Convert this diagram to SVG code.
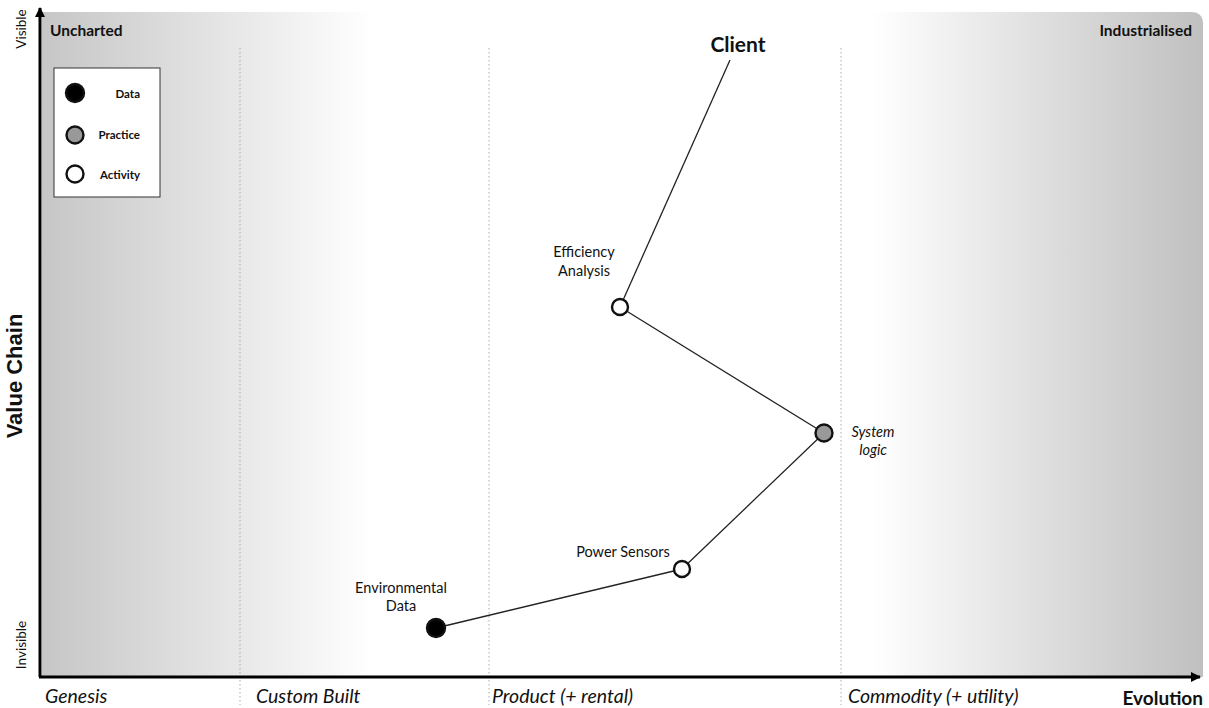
<svg xmlns="http://www.w3.org/2000/svg" width="1209" height="708" viewBox="0 0 1209 708">
<style>
text{font-family:"Lato","Liberation Sans",sans-serif;fill:#111}
.b{font-weight:bold}
.i{font-style:italic}
.lab{font-size:14.5px}
.stage{font-size:19.5px;font-style:italic}
.div{stroke:#aaa;stroke-width:1;stroke-dasharray:1.5 2.5}
.edge{stroke:#222;stroke-width:1.3;fill:none}
.node{stroke:#111;stroke-width:2.4}
</style>
<defs>
<linearGradient id="bg" x1="42" y1="0" x2="1203" y2="0" gradientUnits="userSpaceOnUse">
<stop offset="0" stop-color="#c6c6c6"/>
<stop offset="0.285" stop-color="#ffffff"/>
<stop offset="0.715" stop-color="#ffffff"/>
<stop offset="1" stop-color="#c0c0c0"/>
</linearGradient>
<marker id="ah" markerWidth="10" markerHeight="10" refX="9" refY="5" orient="auto" markerUnits="userSpaceOnUse">
<path d="M0,0 L10,5 L0,10 z" fill="#000"/>
</marker>
</defs>
<rect x="0" y="0" width="1209" height="708" fill="#fff"/>
<path d="M42,12 H1191 Q1203,12 1203,24 V677 H42 Z" fill="url(#bg)"/>
<g id="dividers">
<line class="div" x1="240" y1="48" x2="240" y2="705"/>
<line class="div" x1="489" y1="48" x2="489" y2="705"/>
<line class="div" x1="841" y1="48" x2="841" y2="705"/>
</g>
<g id="axes">
<line x1="40" y1="677" x2="40" y2="8" stroke="#000" stroke-width="3" marker-end="url(#ah)"/>
<line x1="39" y1="677" x2="1200" y2="677" stroke="#000" stroke-width="3" marker-end="url(#ah)"/>
<text x="50" y="36" class="b" font-size="15.5">Uncharted</text>
<text x="1192" y="36" class="b" font-size="15.5" text-anchor="end">Industrialised</text>
<text transform="translate(26,29) rotate(-90)" font-size="13.5" text-anchor="middle">Visible</text>
<text transform="translate(26,645) rotate(-90)" font-size="13.5" text-anchor="middle">Invisible</text>
<text transform="translate(22,376) rotate(-90)" class="b" font-size="22" text-anchor="middle" style="font-family:'Liberation Sans',Arial,sans-serif">Value Chain</text>
<text x="45" y="703" class="stage">Genesis</text>
<text x="256" y="703" class="stage">Custom Built</text>
<text x="492" y="703" class="stage">Product (+ rental)</text>
<text x="848" y="703" class="stage">Commodity (+ utility)</text>
<text x="1203" y="705" class="b" font-size="19" text-anchor="end">Evolution</text>
</g>
<g id="legend">
<rect x="54" y="68" width="106" height="129" fill="#fff" stroke="#333" stroke-width="1"/>
<circle cx="75" cy="93" r="9" fill="#000" class="node"/>
<circle cx="75" cy="135" r="8.5" fill="#999" class="node"/>
<circle cx="75" cy="174" r="8.5" fill="#fff" class="node"/>
<text x="140" y="98" class="b" font-size="11.5" text-anchor="end">Data</text>
<text x="140" y="139" class="b" font-size="11.5" text-anchor="end">Practice</text>
<text x="140" y="179" class="b" font-size="11.5" text-anchor="end">Activity</text>
</g>
<g id="connectors">
<line class="edge" x1="730" y1="60" x2="620" y2="307"/>
<line class="edge" x1="620" y1="307" x2="824" y2="433"/>
<line class="edge" x1="824" y1="433" x2="682" y2="569"/>
<line class="edge" x1="682" y1="569" x2="436" y2="628"/>
</g>
<g id="client">
<text x="738" y="52" class="b" font-size="21" text-anchor="middle">Client</text>
</g>
<g id="efficiency-analysis">
<circle cx="620" cy="307" r="8" fill="#fff" class="node"/>
<text x="584" y="257" class="lab" text-anchor="middle">Efficiency</text>
<text x="584" y="276" class="lab" text-anchor="middle">Analysis</text>
</g>
<g id="system-logic">
<circle cx="824" cy="433" r="8.5" fill="#999" class="node"/>
<text x="873" y="437" class="lab i" text-anchor="middle">System</text>
<text x="873" y="455" class="lab i" text-anchor="middle">logic</text>
</g>
<g id="power-sensors">
<circle cx="682" cy="569" r="8" fill="#fff" class="node"/>
<text x="623" y="557" class="lab" text-anchor="middle">Power Sensors</text>
</g>
<g id="environmental-data">
<circle cx="436" cy="628" r="9" fill="#000" class="node"/>
<text x="401" y="593" class="lab" text-anchor="middle">Environmental</text>
<text x="401" y="611" class="lab" text-anchor="middle">Data</text>
</g>
</svg>
